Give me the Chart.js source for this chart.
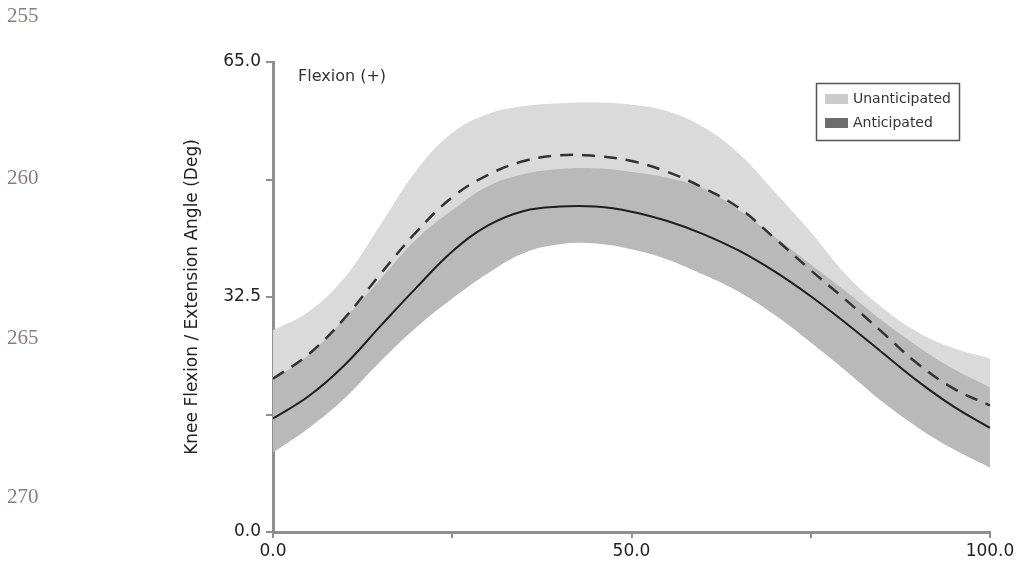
<!DOCTYPE html>
<html>
<head>
<meta charset="utf-8">
<script src="https://cdn.jsdelivr.net/npm/chart.js"></script>
<style>
  body { margin: 0; background: #fff; }
  #wrap { position: relative; width: 1019px; height: 564px; }
  .lineno { position: absolute; left: 7px; font-family: "Liberation Serif", serif; font-size: 21px; color: #8b7d7b; line-height: 21px; }
</style>
</head>
<body>
<div id="wrap">
  <canvas id="kneeChart"></canvas>
  <div class="lineno" style="top:5px">255</div>
  <div class="lineno" style="top:167px">260</div>
  <div class="lineno" style="top:327px">265</div>
  <div class="lineno" style="top:486px">270</div>
</div>
<script>
// % of stance / cycle
const cycle = [0, 5, 10, 15, 20, 25, 30, 35, 40, 45, 50, 55, 60, 65, 70, 75, 80, 85, 90, 95, 100];

// Unanticipated: mean (dashed) and +/- SD band (light)
const unantMean  = [21.2, 24.6, 29.6, 35.7, 41.5, 46.3, 49.4, 51.3, 52.1, 52.0, 51.3, 49.8, 47.6, 44.8, 40.6, 36.2, 32.0, 27.6, 23.2, 19.8, 17.5];
const unantUpper = [27.9, 30.5, 35.2, 42.5, 50.0, 55.2, 57.8, 58.9, 59.3, 59.4, 59.1, 58.2, 56.0, 52.3, 47.0, 41.5, 35.5, 31.0, 27.6, 25.4, 24.0];
const unantLower = [15.0, 18.5, 24.0, 29.0, 33.0, 37.5, 41.0, 43.5, 44.8, 44.6, 43.5, 41.4, 39.2, 37.3, 34.2, 31.0, 28.5, 24.2, 18.8, 14.2, 11.0];

// Anticipated: mean (solid) and +/- SD band (dark)
const antMean  = [15.7, 18.8, 23.1, 28.5, 33.8, 38.8, 42.4, 44.4, 45.0, 45.0, 44.3, 43.0, 41.2, 38.9, 36.0, 32.6, 28.8, 24.8, 20.8, 17.3, 14.4];
const antUpper = [21.0, 24.5, 29.5, 35.0, 40.5, 44.5, 47.8, 49.5, 50.2, 50.3, 49.8, 49.0, 47.5, 44.5, 40.8, 37.0, 33.2, 29.2, 25.6, 22.5, 20.0];
const antLower = [11.0, 14.4, 18.5, 23.6, 28.3, 32.3, 35.8, 38.6, 39.8, 39.9, 39.1, 37.7, 35.6, 33.2, 30.0, 26.2, 22.2, 18.0, 14.4, 11.4, 8.9];

const legendLabels = ['Unanticipated', 'Anticipated'];
const legendColors = ['#cbcbcb', '#6c6c6c'];

function pts(arr) {
    return arr.map((v, i) => ({ x: cycle[i], y: v }));
}

Chart.defaults.font.family = 'DejaVu Sans';
Chart.defaults.color = '#222';

// legend box + "Flexion (+)" note drawn inside the plot
const boxLegend = {
    id: 'boxLegend',
    afterDraw(chart) {
        const ctx = chart.ctx;
        ctx.save();
        ctx.strokeStyle = '#555';
        ctx.lineWidth = 1.5;
        ctx.strokeRect(816.5, 83.5, 143, 57);
        ctx.font = '14px "DejaVu Sans"';
        ctx.textBaseline = 'middle';
        ctx.fillStyle = '#333';
        for (let i = 0; i < legendLabels.length; i++) {
            let y = 99 + i * 24;
            ctx.fillStyle = legendColors[i];
            ctx.fillRect(825, y - 5, 23, 10);
            ctx.fillStyle = '#333';
            ctx.fillText(legendLabels[i], 853, y);
        }
        ctx.font = '16px "DejaVu Sans"';
        ctx.fillText('Flexion (+)', 298, 77);
        ctx.restore();
    }
};

const chrt = document.getElementById('kneeChart');

new Chart(chrt, {
    type: 'line',
    data: {
        datasets: [
            { label: 'Anticipated', data: pts(antMean), borderColor: '#1e1e1e', borderWidth: 2, fill: false },
            { label: 'Unanticipated', data: pts(unantMean), borderColor: '#333', borderWidth: 2.5, borderDash: [13, 9], fill: false },
            { label: 'Anticipated +SD', data: pts(antUpper), borderWidth: 0, fill: '+1', backgroundColor: '#b9b9b9' },
            { label: 'Anticipated -SD', data: pts(antLower), borderWidth: 0, fill: false },
            { label: 'Unanticipated +SD', data: pts(unantUpper), borderWidth: 0, fill: '+1', backgroundColor: '#dadada' },
            { label: 'Unanticipated -SD', data: pts(unantLower), borderWidth: 0, fill: false }
        ]
    },
    options: {
        responsive: true,
        maintainAspectRatio: false,
        animation: false,
        elements: {
            point: { radius: 0 },
            line: { tension: 0.4, borderColor: 'rgba(0,0,0,0)' }
        },
        layout: { padding: { left: 178, top: 62, right: 29, bottom: 0 } },
        plugins: {
            legend: { display: false },
            tooltip: { enabled: false }
        },
        scales: {
            x: {
                type: 'linear',
                min: 0,
                max: 100,
                afterFit: (scale) => { scale.height = 32; },
                border: { color: '#8f8f8f', width: 3 },
                grid: { drawOnChartArea: false, drawTicks: true, tickLength: 6, color: '#8f8f8f', lineWidth: 2 },
                ticks: {
                    stepSize: 25,
                    autoSkip: false,
                    maxRotation: 0,
                    padding: 3,
                    font: { size: 17 },
                    color: '#222',
                    callback: (v, i) => (i % 2 === 0 ? v.toFixed(1) : '')
                }
            },
            y: {
                min: 0,
                max: 65,
                afterFit: (scale) => { scale.width = 95; },
                border: { color: '#8f8f8f', width: 3 },
                grid: { drawOnChartArea: false, drawTicks: true, tickLength: 7, color: '#8f8f8f', lineWidth: 2 },
                ticks: {
                    stepSize: 16.25,
                    autoSkip: false,
                    padding: 5,
                    font: { size: 17 },
                    color: '#222',
                    callback: (v, i) => (i % 2 === 0 ? v.toFixed(1) : '')
                },
                title: {
                    display: true,
                    text: 'Knee Flexion / Extension Angle (Deg)',
                    font: { size: 17 },
                    color: '#222',
                    padding: { top: 4, bottom: 4 }
                }
            }
        }
    },
    plugins: [boxLegend]
});
</script>
</body>
</html>
